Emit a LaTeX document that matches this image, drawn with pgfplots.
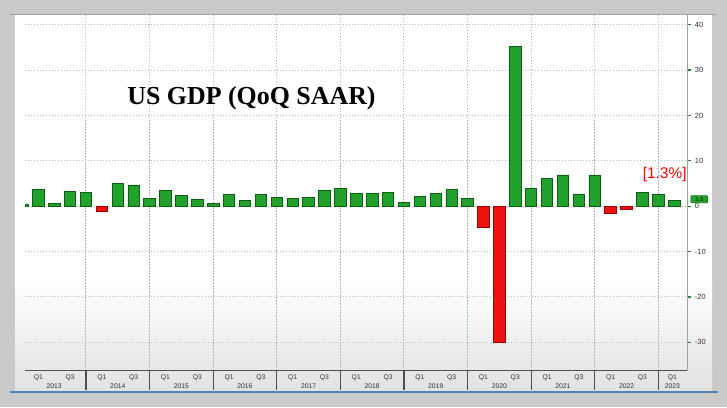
\documentclass[border=0pt]{standalone}
\usepackage{fontspec}
\setmainfont{Liberation Sans}
\newfontfamily\titlefont{Liberation Serif}
\usepackage{pgfplots}
\pgfplotsset{compat=1.18}
\definecolor{bgray}{HTML}{C9C9C9}
\definecolor{panelbot}{HTML}{E2E2E2}
\definecolor{blueline}{HTML}{4F86B8}
\definecolor{axisgray}{HTML}{505050}
\definecolor{axisgreen}{HTML}{8DAF8D}
\definecolor{tickgreen}{HTML}{2E7D32}
\definecolor{gridgray}{HTML}{B8B8B8}
\definecolor{labelgray}{HTML}{303030}
\definecolor{bargreen}{HTML}{22A12C}
\definecolor{bardkgreen}{HTML}{0B5E12}
\definecolor{barred}{HTML}{EE1111}
\definecolor{bardkred}{HTML}{9E0000}
\begin{document}
\begin{tikzpicture}[x=1bp,y=1bp]
\fill[bgray] (0,0) rectangle (727,407);
\fill[white] (15,17) rectangle (712,392);
\shade[top color=white, bottom color=panelbot] (15,17) rectangle (712,127);
\draw[gray!75, line width=1.2bp] (10,392.5) -- (717,392.5);
\fill[blueline] (10,14) rectangle (718,16.5);
\begin{axis}[
  at={(25bp,36.5bp)}, anchor=south west, scale only axis,
  width=662.7bp, height=355.5bp,
  xmin=2013.041, xmax=2023.462, ymin=-36.2, ymax=42.14,
  axis x line*=bottom, axis y line*=right,
  x axis line style={draw=axisgray, line width=1.5bp, -},
  y axis line style={draw=axisgreen, line width=1.2bp, -},
  /pgf/number format/assume math mode=true,
  ytick={-30,-20,...,40},
  ymajorgrids,
  grid style={gridgray, dash pattern=on 1.2bp off 1.8bp, line width=1bp},
  minor grid style={gridgray, dash pattern=on 1.2bp off 1.8bp, line width=1bp},
  yticklabel style={font=\fontsize{7.5}{8}\selectfont, text=labelgray, inner sep=0pt, xshift=4bp},
  ytick style={draw=tickgreen, line width=1.2bp},
  tick align=outside, major tick length=3bp, minor tick length=19bp,
  xtick={2013.25,2013.75,2014.25,2014.75,2015.25,2015.75,2016.25,2016.75,2017.25,2017.75,2018.25,2018.75,2019.25,2019.75,2020.25,2020.75,2021.25,2021.75,2022.25,2022.75,2023.22},
  xticklabels={Q1,Q3,Q1,Q3,Q1,Q3,Q1,Q3,Q1,Q3,Q1,Q3,Q1,Q3,Q1,Q3,Q1,Q3,Q1,Q3,Q1},
  major x tick style={draw=none},
  xticklabel style={font=\fontsize{6.8}{7}\selectfont, text=labelgray, inner sep=0pt, yshift=-1.5bp},
  minor xtick={2014,2015,...,2023},
  minor x tick style={draw=axisgray, line width=1.2bp},
  xminorgrids,
  extra x ticks={2013.5,2014.5,2015.5,2016.5,2017.5,2018.5,2019.5,2020.5,2021.5,2022.5,2023.22},
  extra x tick labels={2013,2014,2015,2016,2017,2018,2019,2020,2021,2022,2023},
  extra x tick style={grid=none, xticklabel style={yshift=-9bp}},
  clip=true,
]
\addplot[ybar, bar width=11.5bp, bar shift=0pt, fill=bargreen, draw=bardkgreen, line width=0.8bp] coordinates {
(2013.00,0.5) (2013.25,3.6) (2013.50,0.7) (2013.75,3.2) (2014.00,3.0)
(2014.50,5.1) (2014.75,4.7) (2015.00,1.8)
(2015.25,3.4) (2015.50,2.4) (2015.75,1.4) (2016.00,0.7)
(2016.25,2.5) (2016.50,1.2) (2016.75,2.5) (2017.00,2.0)
(2017.25,1.7) (2017.50,2.0) (2017.75,3.5) (2018.00,4.0)
(2018.25,2.9) (2018.50,2.9) (2018.75,3.0) (2019.00,0.8)
(2019.25,2.2) (2019.50,2.8) (2019.75,3.6) (2020.00,1.8)
(2020.75,35.3) (2021.00,3.9)
(2021.25,6.2) (2021.50,6.9) (2021.75,2.7) (2022.00,6.9)
(2022.75,3.1) (2023.00,2.5)
(2023.25,1.3)
};
\addplot[ybar, bar width=11.5bp, bar shift=0pt, fill=barred, draw=bardkred, line width=0.8bp] coordinates {
(2014.25,-1.2) (2020.25,-4.6) (2020.50,-29.9) (2022.25,-1.5) (2022.50,-0.6)
};
\end{axis}
\node[anchor=base, font=\titlefont\bfseries\fontsize{26}{30}\selectfont, text=black] at (251.5,302.7) {US GDP (QoQ SAAR)};
\node[anchor=base, text=red, font=\fontsize{15.5}{18}\selectfont] at (664.7,228.7) {[1.3\%]};
\node[fill=bargreen, draw=bardkgreen, rounded corners=1bp, inner sep=0.5bp, minimum width=17bp, minimum height=7.5bp, font=\fontsize{5.5}{6}\selectfont, text=black] at (699.3,207.8) {1.3};
\pgfresetboundingbox
\path[use as bounding box] (0,0) rectangle (727,407);
\end{tikzpicture}
\end{document}
